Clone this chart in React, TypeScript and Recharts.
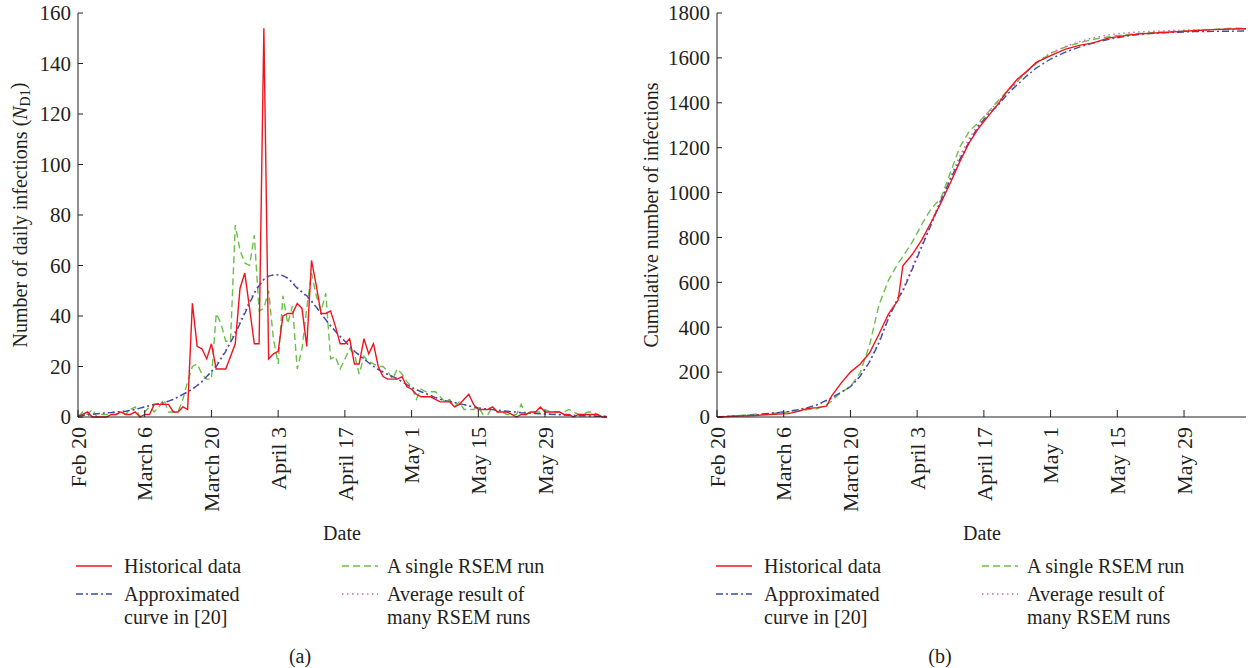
import React from "react"
import { LineChart, Line, XAxis, YAxis } from "recharts"

// x axis: days since Feb 20
const dayTicks = [0, 14, 28, 42, 56, 70, 84, 98]
const dayTickLabels = ["Feb 20", "March 6", "March 20", "April 3", "April 17", "May 1", "May 15", "May 29"]
const topTicks = [9, 19, 29, 39, 49, 59, 69, 79, 89, 99, 109]
const dailyTicks = [0, 20, 40, 60, 80, 100, 120, 140, 160]
const cumTicks = [0, 200, 400, 600, 800, 1000, 1200, 1400, 1600, 1800]

// (a) daily infections, one value per day, Feb 20 .. June 10
const historicalDaily = [
  0, 1, 2, 0, 0, 0, 0, 1, 1, 2,
  1, 1, 2, 0, 1, 1, 5, 5, 5, 5,
  2, 2, 4, 3, 45, 28, 27, 23, 29, 19,
  19, 19, 24, 29, 51, 57, 43, 29, 29, 154,
  23, 25, 26, 40, 41, 41, 45, 43, 28, 62,
  52, 41, 41, 42, 36, 29, 29, 31, 21, 21,
  31, 25, 29, 20, 16, 15, 15, 15, 16, 12,
  11, 9, 8, 8, 8, 7, 6, 6, 6, 4,
  5, 7, 9, 5, 3, 3, 3, 4, 2, 2,
  2, 1, 0, 1, 1, 2, 2, 4, 2, 2,
  2, 2, 1, 1, 0, 1, 1, 1, 1, 1, 0, 0,
]
const singleRunDaily = [
  0, 2, 1, 3, 0, 1, 1, 1, 1, 2,
  1, 3, 4, 0, 2, 4, 2, 4, 7, 2,
  2, 2, 7, 14, 20, 21, 17, 15, 15, 41,
  37, 30, 30, 76, 66, 61, 60, 72, 42, 43,
  50, 31, 21, 48, 37, 44, 19, 27, 43, 57,
  48, 42, 49, 23, 24, 19, 23, 27, 25, 17,
  24, 22, 21, 20, 20, 18, 15, 19, 17, 14,
  12, 7, 11, 10, 10, 10, 8, 6, 7, 4,
  6, 3, 3, 3, 4, 1, 1, 4, 2, 2,
  1, 1, 1, 5, 1, 2, 2, 2, 3, 2,
  2, 2, 2, 3, 2, 1, 1, 2, 2, 1, 0, 0,
]
const approxDaily = [
  0.5, 0.7, 0.9, 1.1, 1.3, 1.5, 1.7, 1.8, 2, 2.1,
  2.3, 2.6, 3, 3.5, 4, 4.5, 5, 5.3, 5.6, 6.3,
  7, 8, 9, 10, 11, 12.5, 14, 16, 18, 20,
  23, 26, 29.5, 33, 37, 41, 45, 49, 52, 54.5,
  55.8, 56.3, 56.3, 56, 55, 53, 51, 49.5, 48, 46,
  43.5, 41, 38.5, 36, 34, 32, 30, 28, 26, 24.5,
  23, 21.5, 20, 18.8, 17.8, 16.8, 16, 15.2, 14, 12.8,
  11.7, 10.8, 10, 9.3, 8.5, 7.7, 7, 6.5, 6.2, 5.8,
  5.3, 4.9, 4.4, 4, 3.6, 3.3, 3.1, 2.9, 2.7, 2.5,
  2.3, 2.1, 1.9, 1.7, 1.6, 1.5, 1.4, 1.3, 1.2, 1.1,
  1, 0.9, 0.8, 0.7, 0.6, 0.5, 0.5, 0.4, 0.4, 0.3, 0.3, 0.3,
]
const averageDaily = [
  0.4, 0.6, 0.8, 1, 1.2, 1.4, 1.6, 1.8, 2, 2.2,
  2.4, 2.7, 3.1, 3.5, 4, 4.4, 4.8, 5.2, 5.7, 6.3,
  7, 7.8, 8.8, 9.8, 11, 12.4, 14, 16, 18.2, 20.5,
  23.5, 26.5, 30, 34, 38, 42, 46, 49.5, 52.5, 54.5,
  55.7, 56.2, 56.4, 56, 55, 53.5, 51.5, 49.5, 47.5, 45.5,
  43.5, 41, 38.5, 36.3, 34, 32, 30, 28, 26.2, 24.6,
  23, 21.5, 20.2, 19, 18, 17, 16, 15, 14, 12.8,
  11.8, 10.8, 10, 9.2, 8.5, 7.8, 7.1, 6.5, 6, 5.6,
  5.2, 4.8, 4.4, 4, 3.7, 3.4, 3.1, 2.9, 2.7, 2.5,
  2.3, 2.1, 2, 1.8, 1.7, 1.6, 1.5, 1.4, 1.3, 1.2,
  1.1, 1, 0.9, 0.8, 0.7, 0.7, 0.6, 0.5, 0.5, 0.4, 0.4, 0.3,
]

// (b) cumulative infections, sampled days
const cumDays = [0, 4, 8, 12, 15, 17, 19, 21, 23, 24, 26, 28, 30, 32, 34, 36, 38, 39, 41, 43, 45, 47, 49, 51, 53, 55, 57, 59, 61, 63, 65, 67, 70, 73, 76, 79, 82, 85, 88, 92, 96, 100, 104, 108, 111]
const historicalCum = [0, 4, 7, 12, 15, 25, 38, 42, 48, 92, 150, 200, 235, 285, 370, 460, 520, 674, 725, 790, 870, 955, 1045, 1140, 1225, 1290, 1343, 1395, 1455, 1505, 1540, 1580, 1610, 1638, 1656, 1667, 1688, 1697, 1706, 1711, 1716, 1721, 1726, 1729, 1730]
const singleRunCum = [0, 6, 12, 17, 22, 27, 33, 37, 55, 70, 110, 135, 195, 320, 500, 610, 685, 715, 780, 860, 930, 975, 1090, 1205, 1275, 1315, 1360, 1410, 1455, 1495, 1540, 1575, 1620, 1648, 1667, 1683, 1693, 1702, 1708, 1714, 1718, 1722, 1727, 1732, 1733]
const approxCum = [0, 4, 9, 18, 25, 33, 42, 55, 75, 85, 110, 135, 180, 245, 330, 440, 530, 560, 660, 760, 860, 965, 1060, 1150, 1230, 1300, 1350, 1390, 1440, 1480, 1520, 1555, 1595, 1625, 1648, 1667, 1682, 1694, 1703, 1710, 1714, 1717, 1718, 1719, 1720]
const averageCum = [0, 4, 9, 17, 24, 32, 41, 53, 72, 83, 108, 135, 182, 250, 335, 445, 535, 570, 670, 770, 870, 972, 1070, 1165, 1245, 1310, 1360, 1405, 1450, 1492, 1540, 1580, 1622, 1650, 1672, 1690, 1702, 1710, 1715, 1719, 1722, 1725, 1726, 1727, 1727]

const dailyData = historicalDaily.map((v, i) => ({
  day: i,
  hist: v,
  single: singleRunDaily[i],
  approx: approxDaily[i],
  avg: averageDaily[i],
}))

const cumData = cumDays.map((d, i) => ({
  day: d,
  hist: historicalCum[i],
  single: singleRunCum[i],
  approx: approxCum[i],
  avg: averageCum[i],
}))

const FONT = "'Liberation Serif', 'DejaVu Serif', serif"
const INK = "#231f20"
const RED = "#f0141e"
const GREEN = "#6cbf4a"
const BLUE = "#3a4fa3"
const PINK = "#d862b8"
const XTICK_FS = 22
const YTICK_FS = 21
const TEXT_FS = 20

const series = [
  { key: "single", color: GREEN, dash: "7 4" },
  { key: "avg", color: PINK, dash: "1.5 3.5" },
  { key: "approx", color: BLUE, dash: "7 3 2 3" },
  { key: "hist", color: RED, dash: undefined as string | undefined },
]

function BottomTick({ x, y, payload }: any) {
  const axisY = y - 10
  const label = dayTickLabels[dayTicks.indexOf(payload.value)]
  return (
    <g>
      <line x1={x} x2={x} y1={axisY} y2={axisY - 7} stroke={INK} />
      <text x={x} y={y} transform={`rotate(-90 ${x} ${y})`} textAnchor="end" dy="0.35em"
        fontSize={XTICK_FS} fontFamily={FONT} fill={INK}>{label}</text>
    </g>
  )
}

function TopTick({ x, y }: any) {
  return <line x1={x} x2={x} y1={y} y2={y + 6} stroke={INK} />
}

function LeftTick({ x, y, payload }: any) {
  const axisX = x + 7
  return (
    <g>
      <line x1={axisX} x2={axisX + 5} y1={y} y2={y} stroke={INK} />
      <text x={x} y={y} textAnchor="end" dy="0.35em" fontSize={YTICK_FS} fontFamily={FONT} fill={INK}>
        {payload.value}
      </text>
    </g>
  )
}

function RightTick({ x, y }: any) {
  return <line x1={x} x2={x - 5} y1={y} y2={y} stroke={INK} />
}

function Panel({ data, ticks, max, marginLeft, marginRight }: any) {
  return (
    <LineChart width={628} height={520} data={data}
      margin={{ top: 13, right: marginRight, bottom: 0, left: marginLeft }}>
      <XAxis xAxisId="b" dataKey="day" type="number" domain={[0, 111]} ticks={dayTicks}
        interval={0} height={103} tickSize={0} tickMargin={10} tick={<BottomTick />}
        axisLine={{ stroke: INK }} tickLine={false} />
      <XAxis xAxisId="t" dataKey="day" type="number" domain={[0, 111]} ticks={topTicks}
        orientation="top" interval={0} height={0} tickSize={0} tickMargin={0} tick={<TopTick />}
        axisLine={{ stroke: INK }} tickLine={false} />
      <YAxis yAxisId="l" type="number" domain={[0, max]} ticks={ticks} interval={0} width={60}
        tickSize={0} tickMargin={7} tick={<LeftTick />} axisLine={{ stroke: INK }} tickLine={false} />
      <YAxis yAxisId="r" orientation="right" type="number" domain={[0, max]} ticks={ticks} interval={0}
        width={0} tickSize={0} tickMargin={0} tick={<RightTick />} axisLine={{ stroke: INK }} tickLine={false} />
      {series.map((s) => (
        <Line key={s.key} xAxisId="b" yAxisId="l" type="linear" dataKey={s.key} stroke={s.color}
          strokeWidth={1.4} strokeDasharray={s.dash} dot={false} isAnimationActive={false} />
      ))}
    </LineChart>
  )
}

function LegendAndTitles({ dx, yTitle, tag }: { dx: number; yTitle: React.ReactNode; tag: string }) {
  const rows = [566, 594, 617]
  const sample = (x: number, y: number, color: string, dash?: string) => (
    <line x1={x} x2={x + 36} y1={y} y2={y} stroke={color} strokeWidth={1.4} strokeDasharray={dash} />
  )
  const txt = (x: number, y: number, s: string) => (
    <text x={x} y={y} dominantBaseline="central" fontSize={TEXT_FS} fontFamily={FONT} fill={INK}>{s}</text>
  )
  return (
    <g transform={`translate(${dx} 0)`}>
      {yTitle}
      <text x={342} y={533} textAnchor="middle" dominantBaseline="central" fontSize={TEXT_FS} fontFamily={FONT} fill={INK}>Date</text>
      {sample(76, rows[0], RED)}
      {txt(124, rows[0], "Historical data")}
      {sample(342, rows[0], GREEN, "7 4")}
      {txt(387, rows[0], "A single RSEM run")}
      {sample(76, rows[1], BLUE, "7 3 2 3")}
      {txt(124, rows[1], "Approximated")}
      {txt(124, rows[2], "curve in [20]")}
      {sample(342, rows[1], PINK, "1.5 3.5")}
      {txt(387, rows[1], "Average result of")}
      {txt(387, rows[2], "many RSEM runs")}
      <text x={300} y={656} textAnchor="middle" dominantBaseline="central" fontSize={TEXT_FS} fontFamily={FONT} fill={INK}>{tag}</text>
    </g>
  )
}

export default function App() {
  return (
    <div style={{ position: "absolute", left: 0, top: 0, width: 1256, height: 668, background: "#fff", fontFamily: FONT }}>
      <div style={{ position: "absolute", left: 0, top: 0 }}>
        <Panel data={dailyData} ticks={dailyTicks} max={160} marginLeft={18} marginRight={21} />
      </div>
      <div style={{ position: "absolute", left: 628, top: 0 }}>
        <Panel data={cumData} ticks={cumTicks} max={1800} marginLeft={29} marginRight={10} />
      </div>
      <svg width={1256} height={668} style={{ position: "absolute", left: 0, top: 0, pointerEvents: "none" }}>
        <LegendAndTitles dx={0} tag="(a)" yTitle={
          <text x={20} y={215} transform="rotate(-90 20 215)" textAnchor="middle" dominantBaseline="central"
            fontSize={TEXT_FS} fontFamily={FONT} fill={INK}>
            Number of daily infections (<tspan fontStyle="italic">N</tspan>
            <tspan fontSize={14} dy="0.35em">D1</tspan><tspan dy="-0.35em">)</tspan>
          </text>
        } />
        <LegendAndTitles dx={640} tag="(b)" yTitle={
          <text x={11} y={215} transform="rotate(-90 11 215)" textAnchor="middle" dominantBaseline="central"
            fontSize={TEXT_FS} fontFamily={FONT} fill={INK}>Cumulative number of infections</text>
        } />
      </svg>
    </div>
  )
}
